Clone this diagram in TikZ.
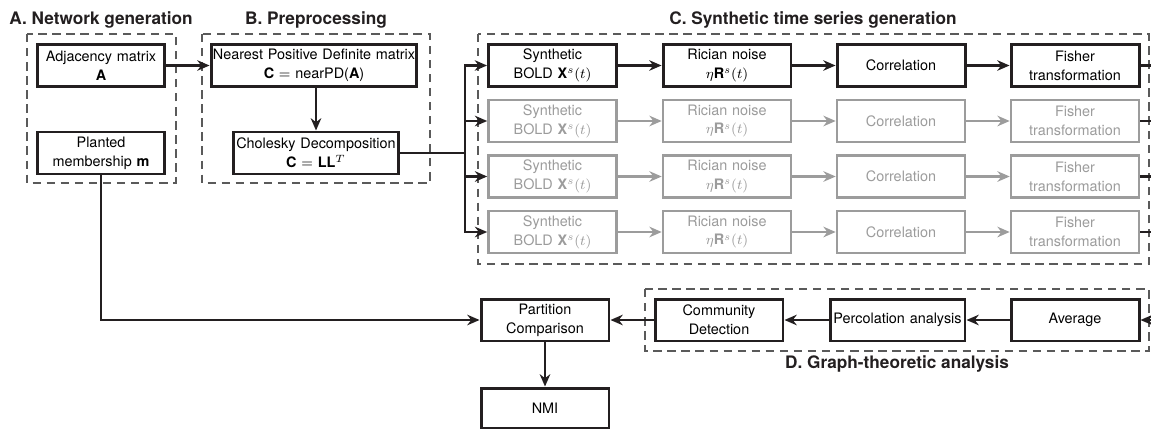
\documentclass[tikz,border=0pt]{standalone}
\usepackage{fontspec}
\setmainfont{TeX Gyre Heros}
\usetikzlibrary{arrows.meta,positioning}
\definecolor{ink}{HTML}{231F20}
\definecolor{fade}{HTML}{9C9C9C}
\definecolor{grpline}{HTML}{5A5A5A}
\tikzset{
  box/.style={draw=ink,line width=1.7pt,fill=white,inner xsep=0pt,inner ysep=1pt,minimum height=.84cm,text width=2.56cm,align=center,font=\fontsize{8.2}{10.8}\selectfont},
  gbox/.style={box,draw=fade,text=fade,line width=1.5pt},
  grp/.style={draw=grpline,dash pattern=on 4.8pt off 3.2pt,line width=.65pt},
  ttl/.style={font=\fontsize{9.8}{12}\selectfont\bfseries,text=ink},
  arr/.style={draw=ink,line width=1.5pt,-{Stealth[length=7pt,width=6pt]}},
  garr/.style={arr,draw=fade},
  bus/.style={draw=ink,line width=1.5pt}
}
\begin{document}
\begin{tikzpicture}[x=.02cm,y=-.02cm]
\useasboundingbox(0,0) rectangle (1151,429);
\clip(0,0) rectangle (1151,429);
% group frames and titles
\draw[grp](27,34) rectangle (176,183);\draw[grp](202,34) rectangle (430,183);
\draw[grp](478,34) rectangle (1149,264);\draw[grp](645,289) rectangle (1149,351);
\node[ttl](ta) at(101,20){A. Network generation};
\node[ttl](tb) at(316,20){B. Preprocessing};
\node[ttl](tc) at(813,20){C. Synthetic time series generation};
\node[ttl](td) at(897,364){D. Graph-theoretic analysis};
% A and B
\node[box](adj) at(101,65.5){Adjacency matrix\\\textbf{A}};
\node[box](plant) at(101,153){Planted\\membership \textbf{m}};
\node[box,text width=4.12cm](npd) at(314,65.5){Nearest Positive Definite matrix\\\textbf{C} $=$ nearPD(\textbf{A})};
\node[box,text width=3.32cm](chol) at(316,153){Cholesky Decomposition\\\textbf{C} $=$ \textbf{LL}$^T$};
\draw[arr](adj.east)--(npd.west);
\draw[arr](npd.south-|chol.north)--(chol.north);
\coordinate(lbus) at(465,153);\coordinate(rbus) at(1156,320);
\draw[bus](chol.east)--(lbus);
% C: one black row, three grey rows
\foreach \i/\y/\st/\ar in {1/65.5/box/arr,2/121/gbox/garr,3/176.5/gbox/garr,4/232/gbox/garr}{
  \node[\st](s\i) at(552.5,\y){Synthetic\\BOLD \textbf{X}$^s(t)$};
  \node[\st](r\i) at(727,\y){Rician noise\\$\eta$\textbf{R}$^s(t)$};
  \node[\st](c\i) at(901,\y){Correlation};
  \node[\st](f\i) at(1075,\y){Fisher\\transformation};
  \draw[arr](lbus)|-(s\i.west);
  \draw[\ar](s\i)--(r\i);\draw[\ar](r\i)--(c\i);\draw[\ar](c\i)--(f\i);
  \draw[bus](f\i.east)-|(rbus);
}
% D and comparison
\node[box](avg) at(1075,320){Average};
\node[box,text width=2.7cm](perc) at(897.5,320){Percolation analysis};
\node[box](comm) at(719,320){Community\\Detection};
\node[box](part) at(545,320){Partition\\Comparison};
\node[box,minimum height=.8cm](nmi) at(545,408){NMI};
\draw[arr](rbus)--(avg.east);
\draw[arr](avg)--(perc);\draw[arr](perc)--(comm);\draw[arr](comm)--(part);
\draw[arr](plant.south)|-(part.west);
\draw[arr](part)--(nmi);
\end{tikzpicture}
\end{document}
